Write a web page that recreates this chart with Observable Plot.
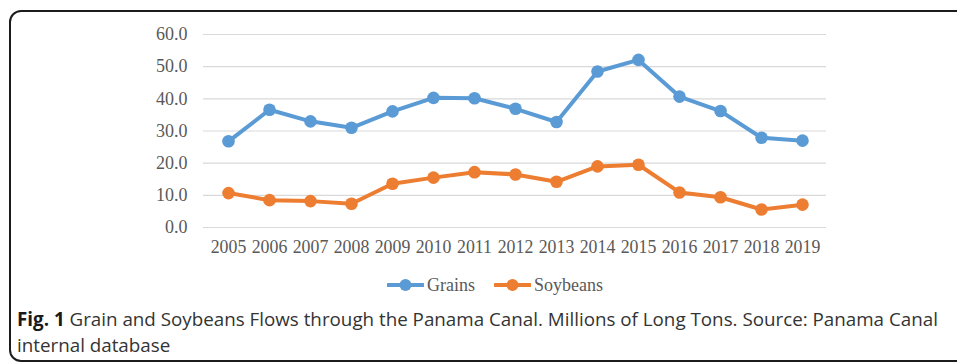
<!DOCTYPE html>
<html>
<head>
<meta charset="utf-8">
<script src="https://cdn.jsdelivr.net/npm/d3@7"></script>
<script src="https://cdn.jsdelivr.net/npm/@observablehq/plot@0.6"></script>
<style>
  html, body { margin: 0; padding: 0; background: #fff; width: 957px; height: 363px; overflow: hidden; }
  #frame { position: absolute; left: 9px; top: 10px; width: 1000px; height: 352px; border: 2px solid #1c1c1c; border-radius: 12px; box-sizing: border-box; }
  #chart { position: absolute; left: 0; top: 0; }
  #legend { position: absolute; top: 274px; left: 0; width: 957px; height: 22px; font-family: "Liberation Serif", "Times New Roman", serif; font-size: 18px; color: #595959; }
  #legend .item { position: absolute; top: 0; display: flex; align-items: center; height: 22px; }
  #legend svg { display: block; margin-right: 3px; }
  #caption { position: absolute; left: 17px; top: 305.5px; font-family: "Open Sans", "Noto Sans", sans-serif; font-size: 18.8px; line-height: 26.5px; color: #333; white-space: nowrap; }
  #caption b { color: #1a1a1a; }
</style>
</head>
<body>
<div id="frame"></div>
<div id="chart"></div>
<div id="legend"></div>
<div id="caption"></div>
<script>
const years = ["2005","2006","2007","2008","2009","2010","2011","2012","2013","2014","2015","2016","2017","2018","2019"];
const grains = [26.8, 36.6, 33.0, 31.0, 36.1, 40.3, 40.2, 36.9, 32.8, 48.5, 52.1, 40.7, 36.2, 27.9, 27.0];
const soybeans = [10.7, 8.5, 8.2, 7.4, 13.6, 15.5, 17.2, 16.5, 14.2, 19.0, 19.5, 10.9, 9.4, 5.6, 7.1];
const yTicks = [0, 10, 20, 30, 40, 50, 60];
const seriesNames = ["Grains", "Soybeans"];
const seriesColors = ["#5B9BD5", "#ED7D31"];
const captionBold = "Fig. 1";
const captionLine1 = "Grain and Soybeans Flows through the Panama Canal. Millions of Long Tons. Source: Panama Canal";
const captionLine2 = "internal database";

const rows = [];
years.forEach((y, i) => {
  rows.push({year: y, value: grains[i], series: seriesNames[0]});
});
years.forEach((y, i) => {
  rows.push({year: y, value: soybeans[i], series: seriesNames[1]});
});

const chart = Plot.plot({
  width: 957,
  height: 262,
  marginLeft: 203,
  marginRight: 131,
  marginTop: 34,
  marginBottom: 35,
  style: { fontFamily: "'Liberation Serif', 'Times New Roman', serif", fontSize: "18px", color: "#595959", background: "transparent" },
  x: { type: "point", domain: years, padding: 0.5, align: 0.5, label: null },
  y: { domain: [0, 60], label: null },
  color: { domain: seriesNames, range: seriesColors },
  marks: [
    Plot.gridY(yTicks, { stroke: "#d9d9d9", strokeOpacity: 1, strokeWidth: 1.2 }),
    Plot.axisY(yTicks, { tickSize: 0, tickPadding: 16, tickFormat: d => d.toFixed(1), fill: "#595959", fontSize: 18 }),
    Plot.axisX({ tickSize: 0, tickPadding: 13, fill: "#595959", fontSize: 17.8 }),
    Plot.line(rows, { x: "year", y: "value", z: "series", stroke: "series", strokeWidth: 4, strokeLinejoin: "round", strokeLinecap: "round" }),
    Plot.dot(rows, { x: "year", y: "value", fill: "series", r: 6.3 })
  ]
});
document.getElementById("chart").appendChild(chart);

// Legend
const legend = document.getElementById("legend");
const legendLefts = [387, 494];
seriesNames.forEach((name, i) => {
  const item = document.createElement("div");
  item.className = "item";
  item.style.left = legendLefts[i] + "px";
  item.innerHTML = `<svg width="37" height="14"><line x1="1" y1="7" x2="36" y2="7" stroke="${seriesColors[i]}" stroke-width="4" stroke-linecap="round"/><circle cx="18.5" cy="7" r="6" fill="${seriesColors[i]}"/></svg><span>${name}</span>`;
  legend.appendChild(item);
});

// Caption
const cap = document.getElementById("caption");
cap.innerHTML = `<b>${captionBold}</b> ${captionLine1}<br>${captionLine2}`;
</script>
</body>
</html>
